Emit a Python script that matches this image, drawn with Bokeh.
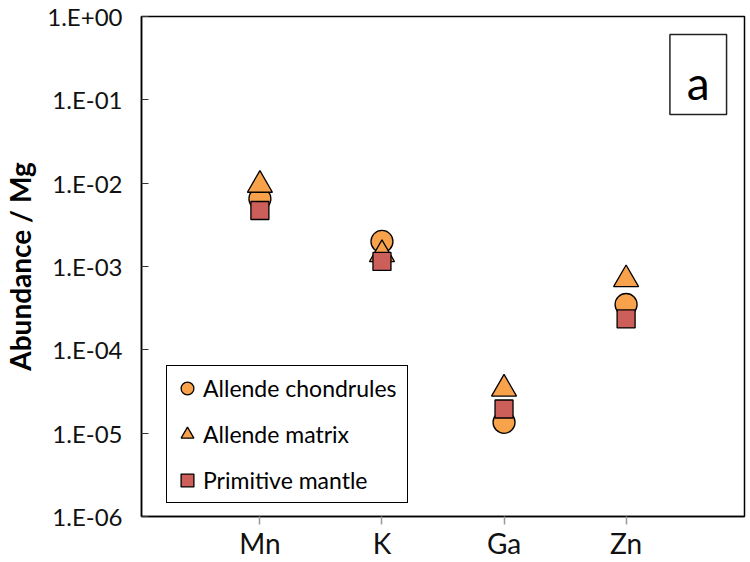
from bokeh.plotting import figure
from bokeh.models import FactorRange, Range1d, FixedTicker, Legend, LegendItem, BoxAnnotation, Label
from bokeh.embed import file_html
from bokeh.resources import INLINE

# ---- data ----
elements = ["Mn", "K", "Ga", "Zn"]
allende_chondrules = [6.5e-3, 2.0e-3, 1.35e-5, 3.5e-4]
allende_matrix = [9.5e-3, 1.4e-3, 3.4e-5, 7.0e-4]
primitive_mantle = [4.7e-3, 1.15e-3, 1.95e-5, 2.35e-4]
series_names = ["Allende chondrules", "Allende matrix", "Primitive mantle"]
y_tick_values = [1e-6, 1e-5, 1e-4, 1e-3, 1e-2, 1e-1, 1e0]
y_tick_labels = ["1.E-06", "1.E-05", "1.E-04", "1.E-03", "1.E-02", "1.E-01", "1.E+00"]
y_axis_title = "Abundance / Mg"
panel_tag = "a"

FONT = "Lato"
ORANGE = "#F8A24C"
RED = "#CC5F59"

p = figure(width=750, height=562,
           x_range=FactorRange(*elements, range_padding=0.47, range_padding_units="absolute"),
           y_axis_type="log", y_range=Range1d(1e-6, 1.0),
           output_backend="svg", toolbar_location=None,
           min_border_left=137, min_border_right=6, min_border_top=16, min_border_bottom=46)

r1 = p.scatter(x=elements, y=allende_chondrules, marker="circle", size=22,
               fill_color=ORANGE, line_color="black", line_width=1.3)
r2 = p.scatter(x=elements, y=allende_matrix, marker="triangle", size=25,
               fill_color=ORANGE, line_color="black", line_width=1.3)
r3 = p.scatter(x=elements, y=primitive_mantle, marker="square", size=18,
               fill_color=RED, line_color="black", line_width=1.3)

legend = Legend(items=[LegendItem(label=series_names[0], renderers=[r1]),
                       LegendItem(label=series_names[1], renderers=[r2]),
                       LegendItem(label=series_names[2], renderers=[r3])],
                location=(25, 13), orientation="vertical",
                label_text_font=FONT, label_text_font_size="23px", label_text_color="black",
                glyph_width=32, glyph_height=36, label_height=36, spacing=10,
                padding=4, margin=0, label_standoff=0, label_width=200,
                border_line_color="black", border_line_width=1.5, border_line_alpha=1.0,
                background_fill_color="white", background_fill_alpha=1.0)
p.add_layout(legend)

# grid / frame
p.xgrid.grid_line_color = None
p.ygrid.grid_line_color = None
p.outline_line_color = "black"
p.outline_line_width = 1.5
p.outline_line_alpha = 1.0
p.background_fill_color = "white"
p.border_fill_color = "white"

# y axis
p.yaxis.ticker = FixedTicker(ticks=y_tick_values, minor_ticks=[])
p.yaxis.major_label_overrides = dict(zip(y_tick_values, y_tick_labels))
p.yaxis.major_tick_in = 7
p.yaxis.major_tick_out = 0
p.yaxis.minor_tick_line_color = None
p.yaxis.major_tick_line_color = "#333333"
p.yaxis.major_label_standoff = 19
p.yaxis.major_label_text_font = FONT
p.yaxis.major_label_text_font_size = "24px"
p.yaxis.major_label_text_color = "#111111"
p.yaxis.axis_label = y_axis_title
p.yaxis.axis_label_text_font = FONT
p.yaxis.axis_label_text_font_style = "bold"
p.yaxis.axis_label_text_font_size = "28px"
p.yaxis.axis_label_text_color = "black"
p.yaxis.axis_label_standoff = 7
p.yaxis.axis_line_color = "black"
p.yaxis.axis_line_width = 1.5

# x axis
p.xaxis.major_tick_in = 0
p.xaxis.major_tick_out = 8
p.xaxis.major_tick_line_color = "#999999"
p.xaxis.major_tick_line_width = 1.5
p.xaxis.major_label_standoff = 1
p.xaxis.major_label_text_font = FONT
p.xaxis.major_label_text_font_size = "28px"
p.xaxis.major_label_text_color = "#111111"
p.xaxis.axis_line_color = "black"
p.xaxis.axis_line_width = 1.5

# panel tag box
p.add_layout(BoxAnnotation(left=3.859, right=4.323, top=0.608, bottom=0.0667,
                           fill_color=None, line_color="#222222", line_alpha=1.0, line_width=1.5))
p.add_layout(Label(x=4.091, y=0.161, text=panel_tag, text_font=FONT, text_font_size="46px",
                   text_align="center", text_baseline="middle", text_color="black"))

open("out.html", "w").write(file_html(p, INLINE))
